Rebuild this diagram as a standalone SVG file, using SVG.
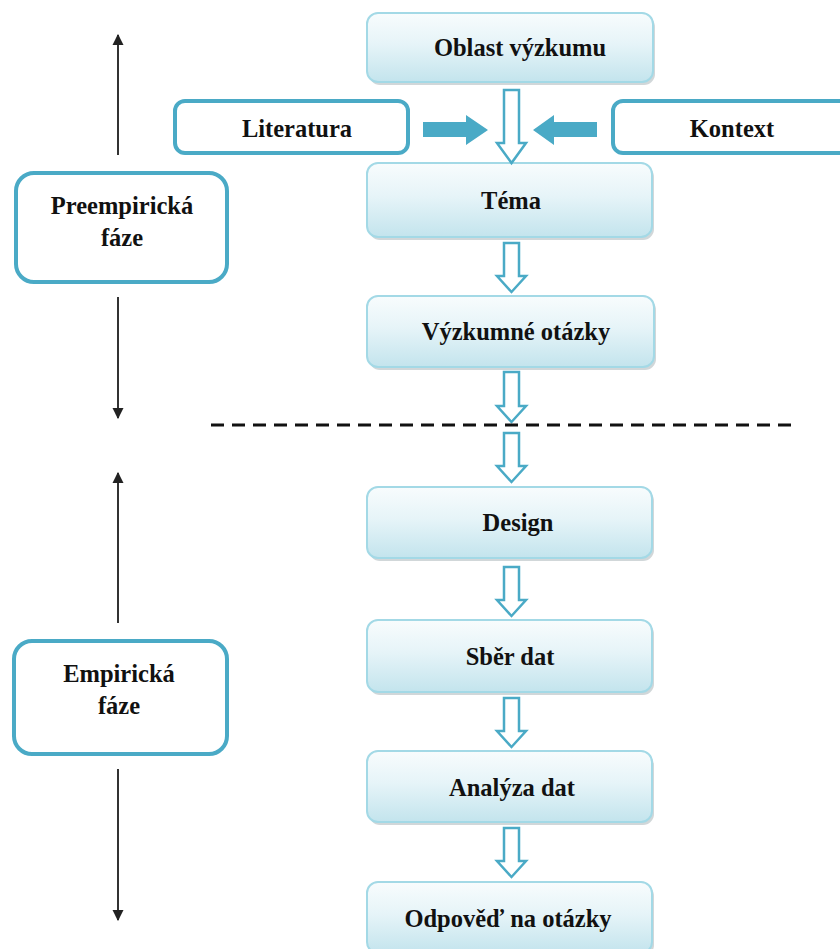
<svg xmlns="http://www.w3.org/2000/svg" width="840" height="949" viewBox="0 0 840 949">
  <defs>
    <linearGradient id="boxGrad" x1="0" y1="0" x2="0" y2="1">
      <stop offset="0" stop-color="#f8fcfd"/>
      <stop offset="0.45" stop-color="#e6f4f8"/>
      <stop offset="1" stop-color="#c3e4ed"/>
    </linearGradient>
    <marker id="blackHead" viewBox="0 0 10 10" refX="9" refY="5" markerWidth="5.5" markerHeight="6" orient="auto" markerUnits="strokeWidth">
      <path d="M0,0 L10,5 L0,10 Z" fill="#222"/>
    </marker>
    <style>
      .step rect.main { fill: url(#boxGrad); stroke: #a3d9e6; stroke-width: 2; }
      .step rect.shadow { fill: #9aa6aa; opacity: 0.45; }
      .side rect { fill: #ffffff; stroke: #4aaac6; stroke-width: 4; }
      .phase rect { fill: #ffffff; stroke: #4aaac6; stroke-width: 4; }
      text { font-family: "Liberation Serif", "Times New Roman", serif; font-weight: bold; font-size: 24.5px; fill: #111; text-anchor: middle; }
      .hollow { fill: #ffffff; stroke: #4aaac6; stroke-width: 2.5; stroke-linejoin: miter; }
      .solid { fill: #4aaac6; }
      .vline { stroke: #333; stroke-width: 2; fill: none; marker-end: url(#blackHead); }
      .dash { stroke: #111; stroke-width: 3; stroke-dasharray: 13 8; fill: none; }
    </style>
  </defs>

  <!-- main steps -->
  <g id="oblast" class="step">
    <rect class="shadow" x="369" y="16" width="286" height="69" rx="11"/>
    <rect class="main" x="367" y="13" width="286" height="69" rx="11"/>
    <text x="520" y="56">Oblast výzkumu</text>
  </g>
  <g id="tema" class="step">
    <rect class="shadow" x="369" y="166" width="285" height="74" rx="11"/>
    <rect class="main" x="367" y="163" width="285" height="74" rx="11"/>
    <text x="511" y="209">Téma</text>
  </g>
  <g id="vyzkumne-otazky" class="step">
    <rect class="shadow" x="369" y="299" width="287" height="71" rx="11"/>
    <rect class="main" x="367" y="296" width="287" height="71" rx="11"/>
    <text x="516" y="340">Výzkumné otázky</text>
  </g>
  <g id="design" class="step">
    <rect class="shadow" x="369" y="490" width="285" height="71" rx="11"/>
    <rect class="main" x="367" y="487" width="285" height="71" rx="11"/>
    <text x="518" y="531">Design</text>
  </g>
  <g id="sber-dat" class="step">
    <rect class="shadow" x="369" y="623" width="285" height="72" rx="11"/>
    <rect class="main" x="367" y="620" width="285" height="72" rx="11"/>
    <text x="510" y="665">Sběr dat</text>
  </g>
  <g id="analyza-dat" class="step">
    <rect class="shadow" x="369" y="754" width="285" height="71" rx="11"/>
    <rect class="main" x="367" y="751" width="285" height="71" rx="11"/>
    <text x="512" y="796">Analýza dat</text>
  </g>
  <g id="odpoved" class="step">
    <rect class="shadow" x="369" y="885" width="285" height="71" rx="11"/>
    <rect class="main" x="367" y="882" width="285" height="71" rx="11"/>
    <text x="508" y="927">Odpověď na otázky</text>
  </g>

  <!-- side inputs -->
  <g id="literatura" class="side">
    <rect x="175" y="101" width="233" height="52" rx="10"/>
    <text x="297" y="137">Literatura</text>
  </g>
  <g id="kontext" class="side">
    <rect x="613" y="101" width="236" height="52" rx="10"/>
    <text x="732" y="137">Kontext</text>
  </g>

  <!-- phases -->
  <g id="preempiricka-faze" class="phase">
    <rect x="16" y="173" width="211" height="109" rx="18"/>
    <text x="122" y="214">Preempirická</text>
    <text x="122" y="246">fáze</text>
  </g>
  <g id="empiricka-faze" class="phase">
    <rect x="14" y="641" width="213" height="113" rx="18"/>
    <text x="119" y="682">Empirická</text>
    <text x="119" y="714">fáze</text>
  </g>

  <!-- connectors -->
  <g id="connectors">
    <!-- hollow down arrows -->
    <path class="hollow" d="M504,90 H519 V143 H526 L511.5,163 L497,143 H504 Z"/>
    <path class="hollow" d="M504,243 H519 V276 H526 L511.5,292 L497,276 H504 Z"/>
    <path class="hollow" d="M504,372 H519 V406 H526 L511.5,422 L497,406 H504 Z"/>
    <path class="hollow" d="M504,433 H519 V466 H526 L511.5,482 L497,466 H504 Z"/>
    <path class="hollow" d="M504,567 H519 V600 H526 L511.5,616 L497,600 H504 Z"/>
    <path class="hollow" d="M504,698 H519 V731 H526 L511.5,747 L497,731 H504 Z"/>
    <path class="hollow" d="M504,828 H519 V861 H526 L511.5,877 L497,861 H504 Z"/>
    <!-- solid side arrows -->
    <path class="solid" d="M423,122 H466 V115 L488,130 L466,145 V137 H423 Z"/>
    <path class="solid" d="M597,122 H554 V115 L533,130 L554,145 V137 H597 Z"/>
    <!-- phase range arrows -->
    <line class="vline" x1="118" y1="155" x2="118" y2="35"/>
    <line class="vline" x1="118" y1="297" x2="118" y2="418"/>
    <line class="vline" x1="118" y1="623" x2="118" y2="473"/>
    <line class="vline" x1="118" y1="769" x2="118" y2="920"/>
    <!-- phase divider -->
    <line class="dash" x1="211" y1="425" x2="797" y2="425"/>
  </g>
</svg>
